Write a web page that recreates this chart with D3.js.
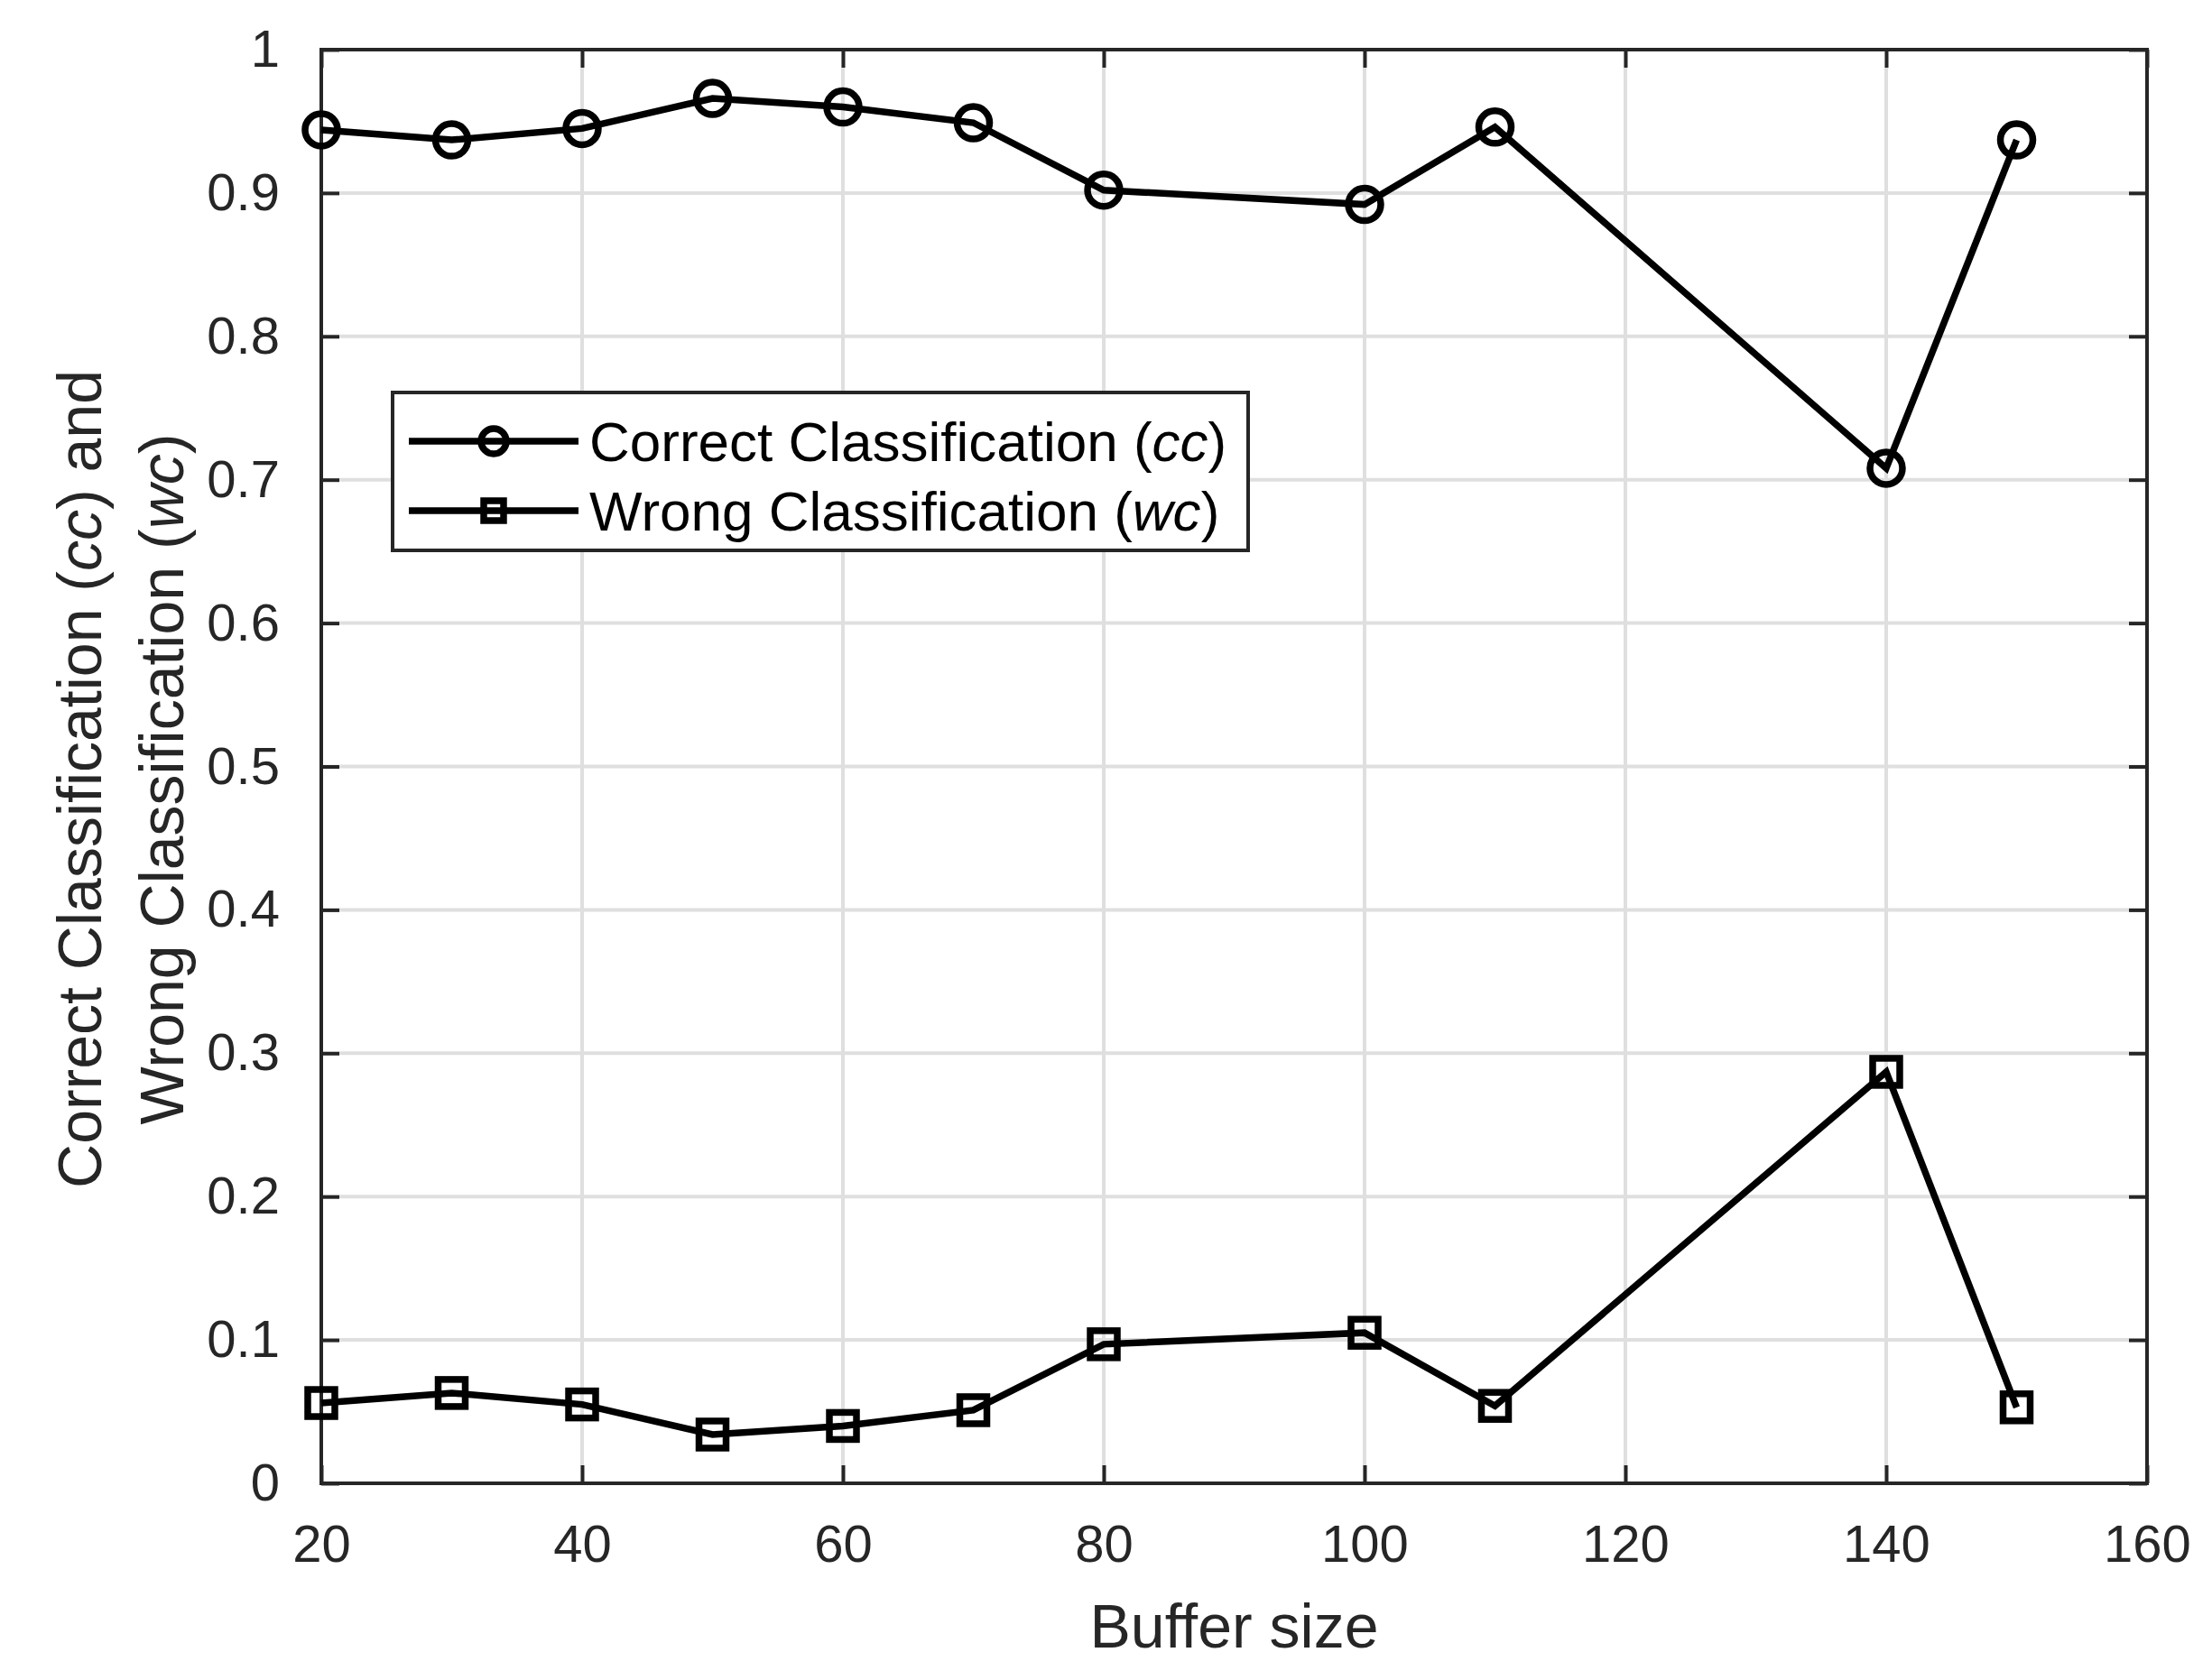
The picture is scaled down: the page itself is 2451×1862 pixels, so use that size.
<!DOCTYPE html>
<html>
<head>
<meta charset="utf-8">
<script src="https://cdn.jsdelivr.net/npm/d3@7"></script>
<style>
  body { margin: 0; background: #fff; }
  text { font-family: "Liberation Sans", Arial, sans-serif; fill: #262626; }
</style>
</head>
<body>
<div id="chart"></div>
<script>
// data
const bufferSizes = [20, 30, 40, 50, 60, 70, 80, 100, 110, 140, 150];
const ccValues = [0.944, 0.937, 0.945, 0.966, 0.960, 0.949, 0.902, 0.892, 0.946, 0.708, 0.937];
const wcValues = [0.056, 0.063, 0.055, 0.034, 0.040, 0.051, 0.097, 0.105, 0.054, 0.287, 0.053];
const xTicks = [20, 40, 60, 80, 100, 120, 140, 160];
const yTicks = [0, 0.1, 0.2, 0.3, 0.4, 0.5, 0.6, 0.7, 0.8, 0.9, 1];

(function() {
var W = 2451, H = 1862;
var pLeft = 356, pRight = 2379, pTop = 55, pBottom = 1644;
var tickFont = 58, legendFont = 62, labelFont = 68;
var lw = 7.5;

var svg = d3.select("#chart").append("svg")
	.attr("width", W)
	.attr("height", H);

var x = d3.scaleLinear().domain([20, 160]).range([pLeft, pRight]);
var y = d3.scaleLinear().domain([0, 1]).range([pBottom, pTop]);

// grid
var grid = svg.append("g");
grid.selectAll("line.gx").data(xTicks).enter().append("line")
	.attr("x1", d => x(d)).attr("x2", d => x(d))
	.attr("y1", pTop).attr("y2", pBottom)
	.attr("stroke", "#dfdfdf").attr("stroke-width", 4);
grid.selectAll("line.gy").data(yTicks).enter().append("line")
	.attr("x1", pLeft).attr("x2", pRight)
	.attr("y1", d => y(d)).attr("y2", d => y(d))
	.attr("stroke", "#dfdfdf").attr("stroke-width", 4);

// axes with inward ticks (MATLAB style)
var axisColor = "#262626";
function styleAxis(g) {
	g.select(".domain").remove();
	g.selectAll(".tick line").attr("stroke", axisColor).attr("stroke-width", 4);
	g.selectAll(".tick text").attr("font-size", tickFont).attr("fill", axisColor)
		.style("font-family", "'Liberation Sans', Arial, sans-serif");
}

svg.append("g")
	.attr("transform", `translate(0, ${pBottom})`)
	.call(d3.axisBottom(x).tickValues(xTicks).tickSize(-20).tickPadding(46).tickFormat(d3.format("d")))
	.call(styleAxis);
svg.append("g")
	.attr("transform", `translate(0, ${pTop})`)
	.call(d3.axisTop(x).tickValues(xTicks).tickSize(-20).tickFormat(""))
	.call(styleAxis);
svg.append("g")
	.attr("transform", `translate(${pLeft}, 0)`)
	.call(d3.axisLeft(y).tickValues(yTicks).tickSize(-20).tickPadding(46).tickFormat(d => d === 0 || d === 1 ? d : d3.format(".1f")(d)))
	.call(styleAxis);
svg.append("g")
	.attr("transform", `translate(${pRight}, 0)`)
	.call(d3.axisRight(y).tickValues(yTicks).tickSize(-20).tickFormat(""))
	.call(styleAxis);

svg.append("rect")
	.attr("x", pLeft).attr("y", pTop)
	.attr("width", pRight - pLeft).attr("height", pBottom - pTop)
	.attr("fill", "none").attr("stroke", axisColor).attr("stroke-width", 4);

// series
var line = d3.line().x(d => x(d[0])).y(d => y(d[1]));
var cc = bufferSizes.map((b, i) => [b, ccValues[i]]);
var wc = bufferSizes.map((b, i) => [b, wcValues[i]]);

svg.append("path").datum(cc).attr("d", line)
	.attr("fill", "none").attr("stroke", "#000").attr("stroke-width", lw);
svg.append("path").datum(wc).attr("d", line)
	.attr("fill", "none").attr("stroke", "#000").attr("stroke-width", lw);

svg.selectAll("circle.cc").data(cc).enter().append("circle")
	.attr("cx", d => x(d[0])).attr("cy", d => y(d[1])).attr("r", 18)
	.attr("fill", "none").attr("stroke", "#000").attr("stroke-width", lw);
svg.selectAll("rect.wc").data(wc).enter().append("rect")
	.attr("x", d => x(d[0]) - 15).attr("y", d => y(d[1]) - 15)
	.attr("width", 30).attr("height", 30)
	.attr("fill", "none").attr("stroke", "#000").attr("stroke-width", lw);

// legend
var lg = svg.append("g");
lg.append("rect")
	.attr("x", 435).attr("y", 435).attr("width", 948).attr("height", 175)
	.attr("fill", "#fff").attr("stroke", axisColor).attr("stroke-width", 4);
var items = [
	{ name: "Correct Classification (", abbr: "cc", marker: "circle", yy: 489 },
	{ name: "Wrong Classification (", abbr: "wc", marker: "square", yy: 566 }
];
items.forEach(function(it) {
	lg.append("line").attr("x1", 453).attr("x2", 641).attr("y1", it.yy).attr("y2", it.yy)
		.attr("stroke", "#000").attr("stroke-width", lw);
	if (it.marker === "circle") {
		lg.append("circle").attr("cx", 547).attr("cy", it.yy).attr("r", 14)
			.attr("fill", "none").attr("stroke", "#000").attr("stroke-width", lw);
	} else {
		lg.append("rect").attr("x", 547 - 11).attr("y", it.yy - 11).attr("width", 22).attr("height", 22)
			.attr("fill", "none").attr("stroke", "#000").attr("stroke-width", lw);
	}
	var t = lg.append("text").attr("x", 653).attr("y", it.yy).attr("dy", "0.36em")
		.attr("font-size", legendFont).style("fill", "#000");
	t.append("tspan").text(it.name);
	t.append("tspan").attr("font-style", "italic").text(it.abbr);
	t.append("tspan").text(")");
});

// axis labels
svg.append("text")
	.attr("x", (pLeft + pRight) / 2).attr("y", 1826)
	.attr("text-anchor", "middle").attr("font-size", labelFont)
	.text("Buffer size");

var yl = svg.append("g").attr("transform", `translate(0, ${(pTop + pBottom) / 2 + 14}) rotate(-90)`);
var l1 = yl.append("text").attr("x", 0).attr("y", 112).attr("text-anchor", "middle").attr("font-size", labelFont);
l1.append("tspan").text("Correct Classification (");
l1.append("tspan").attr("font-style", "italic").text("cc");
l1.append("tspan").text(") and");
var l2 = yl.append("text").attr("x", 0).attr("y", 203).attr("text-anchor", "middle").attr("font-size", labelFont);
l2.append("tspan").text("Wrong Classification (");
l2.append("tspan").attr("font-style", "italic").text("wc");
l2.append("tspan").text(")");
})();
</script>
</body>
</html>
